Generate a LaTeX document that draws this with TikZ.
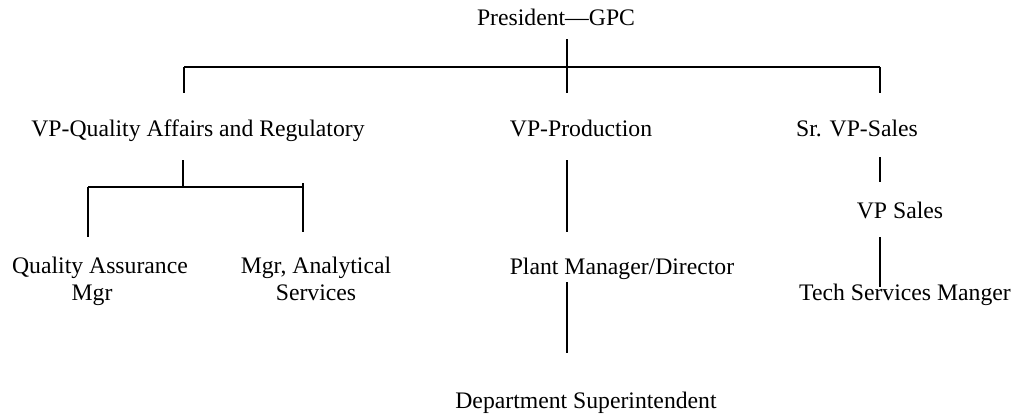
\documentclass[tikz,border=0pt]{standalone}
\usepackage{fontspec}
\setmainfont{Liberation Serif}
\usetikzlibrary{positioning}
\tikzset{orgline/.style={black, line width=1.6pt}, every node/.style={inner sep=0pt, anchor=base, align=center, font=\fontsize{23.7}{27}\selectfont}}

\begin{document}
\begin{tikzpicture}[x=1pt,y=-1pt]
   \useasboundingbox (0,0) rectangle (1017,418);
   % titles (base anchor = last line)
   \node (pres)  at (556, 25) {President---GPC};
   \node (vpq)   at (198,136) {VP-Quality Affairs and Regulatory};
   \node (vpp)   at (581,136) {VP-Production};
   \node (svps)  at (857,136) {Sr. VP-Sales};
   \node (qam)   at (100,300) {Quality Assurance\\Mgr\hspace*{16pt}};
   \node (mas)   at (316,300) {Mgr, Analytical\\Services};
   \node (plant) at (622,274) {Plant Manager/Director};
   \node (vps)   at (900,218) {VP Sales};
   \node (tech)  at (905,300) {Tech Services Manger};
   \node (dept)  at (586,408) {Department Superintendent};
   % top level
   \begin{scope}
    \coordinate (p top) at (567,39);
    \coordinate (p hub) at (567,67);
    \coordinate (bar w) at (184,67);
    \coordinate (bar e) at (880,67);
    \coordinate (q drop) at (184,93);
    \coordinate (p drop) at (567,93);
    \coordinate (s drop) at (880,93);
    \draw[orgline] (p top) -- (p hub);
    \draw[orgline] (bar w) -- (bar e);
    \draw[orgline] (bar w) -- (q drop);
    \draw[orgline] (p hub) -- (p drop);
    \draw[orgline] (bar e) -- (s drop);
   \end{scope}
   % quality
   \begin{scope}
    \coordinate (q top) at (183,160);
    \coordinate (q hub) at (183,187);
    \coordinate (qbar w) at (88,187);
    \coordinate (qbar e) at (303,187);
    \draw[orgline] (q top) -- (q hub);
    \draw[orgline] (qbar w) -- (qbar e);
    \draw[orgline] (qbar w) -- (88,237);
    \draw[orgline] (303,183) -- (303,232);
   \end{scope}
   % production
   \begin{scope}
    \draw[orgline] (567,160) -- (567,232);
    \draw[orgline] (567,282) -- (567,353);
   \end{scope}
   % sales
   \begin{scope}
    \draw[orgline] (880,157) -- (880,182);
    \draw[orgline] (880,237) -- (880,287);
   \end{scope}
\end{tikzpicture}
\end{document}
